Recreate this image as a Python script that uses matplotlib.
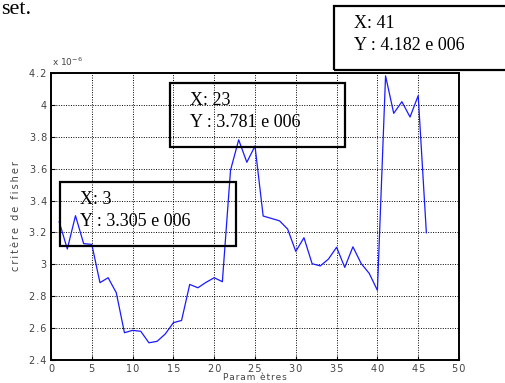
import numpy as np
import matplotlib
matplotlib.use("Agg")
import matplotlib.pyplot as plt
from matplotlib.patches import Rectangle

# fisher criterion (x 1e-6) per number of parameters
params = list(range(1, 47))
fisher = [3.267, 3.096, 3.305, 3.130, 3.125, 2.885, 2.916, 2.822, 2.571, 2.586,
          2.580, 2.508, 2.517, 2.563, 2.634, 2.648, 2.874, 2.853, 2.887, 2.916,
          2.891, 3.590, 3.781, 3.640, 3.742, 3.303, 3.288, 3.273, 3.221, 3.081,
          3.167, 3.004, 2.990, 3.033, 3.107, 2.981, 3.110, 3.006, 2.943, 2.837,
          4.182, 3.947, 4.020, 3.924, 4.058, 3.198]
xticks = [0, 5, 10, 15, 20, 25, 30, 35, 40, 45, 50]
yticks = [2.4, 2.6, 2.8, 3.0, 3.2, 3.4, 3.6, 3.8, 4.0, 4.2]
ytick_labels = ["2.4", "2.6", "2.8", "3", "3.2", "3.4", "3.6", "3.8", "4", "4.2"]

# data-tip boxes: (x, y label, box in figure pixels left, top, right, bottom)
tips = [
    ("41", "4.182", (334, 6, 520, 70)),
    ("23", "3.781", (170, 83, 345, 147)),
    ("3", "3.305", (60, 182, 236, 246)),
]

W, H = 506, 383


def spaced(s, sep="\u200a"):
    return sep.join(s)


fig = plt.figure(figsize=(W / 100, H / 100), dpi=100)
ax = fig.add_axes([51 / W, 1 - 360 / H, 408 / W, 287 / H])

ax.plot(params, fisher, color="#1a1aff", lw=0.9)
ax.set_xlim(0, 50)
ax.set_ylim(2.4, 4.2)
ax.set_xticks(xticks)
ax.set_xticklabels([spaced(str(t)) for t in xticks])
ax.set_yticks(yticks)
ax.set_yticklabels([spaced(t) for t in ytick_labels])
ax.grid(True, color="black", linestyle=(0, (1, 1.5)), lw=0.7)
ax.tick_params(direction="in", length=3, labelsize=7, labelcolor="#444444", width=0.8, pad=3)
for s in ax.spines.values():
    s.set_linewidth(1.4)

ax.set_xlabel(spaced("Param ètres"), fontsize=6.5, color="#444444", labelpad=-1)
ax.set_ylabel(spaced("critère de fisher", "\u2009"), fontsize=7, color="#444444", labelpad=6)

fig.text(52 / W, 1 - 66 / H, r"x $\mathregular{10^{-6}}$", fontsize=6.5, color="#444444")
fig.text(1 / W, 1 - 14 / H, "set.", fontsize=16, family="Liberation Serif", va="baseline")

for xv, yv, (l, t, r, b) in tips:
    fig.patches.append(Rectangle((l / W, 1 - b / H), (r - l) / W, (b - t) / H,
                                 transform=fig.transFigure, fill=True, facecolor="none",
                                 edgecolor="black", lw=1.6, zorder=5))
    fig.text((l + 20) / W, 1 - (t + 22) / H, "X: " + xv, fontsize=13,
             family="Liberation Serif", va="baseline", zorder=6)
    fig.text((l + 20) / W, 1 - (t + 44) / H, "Y : " + yv + " e 006", fontsize=13,
             family="Liberation Serif", va="baseline", zorder=6)

fig.savefig("out.png", dpi=100)
